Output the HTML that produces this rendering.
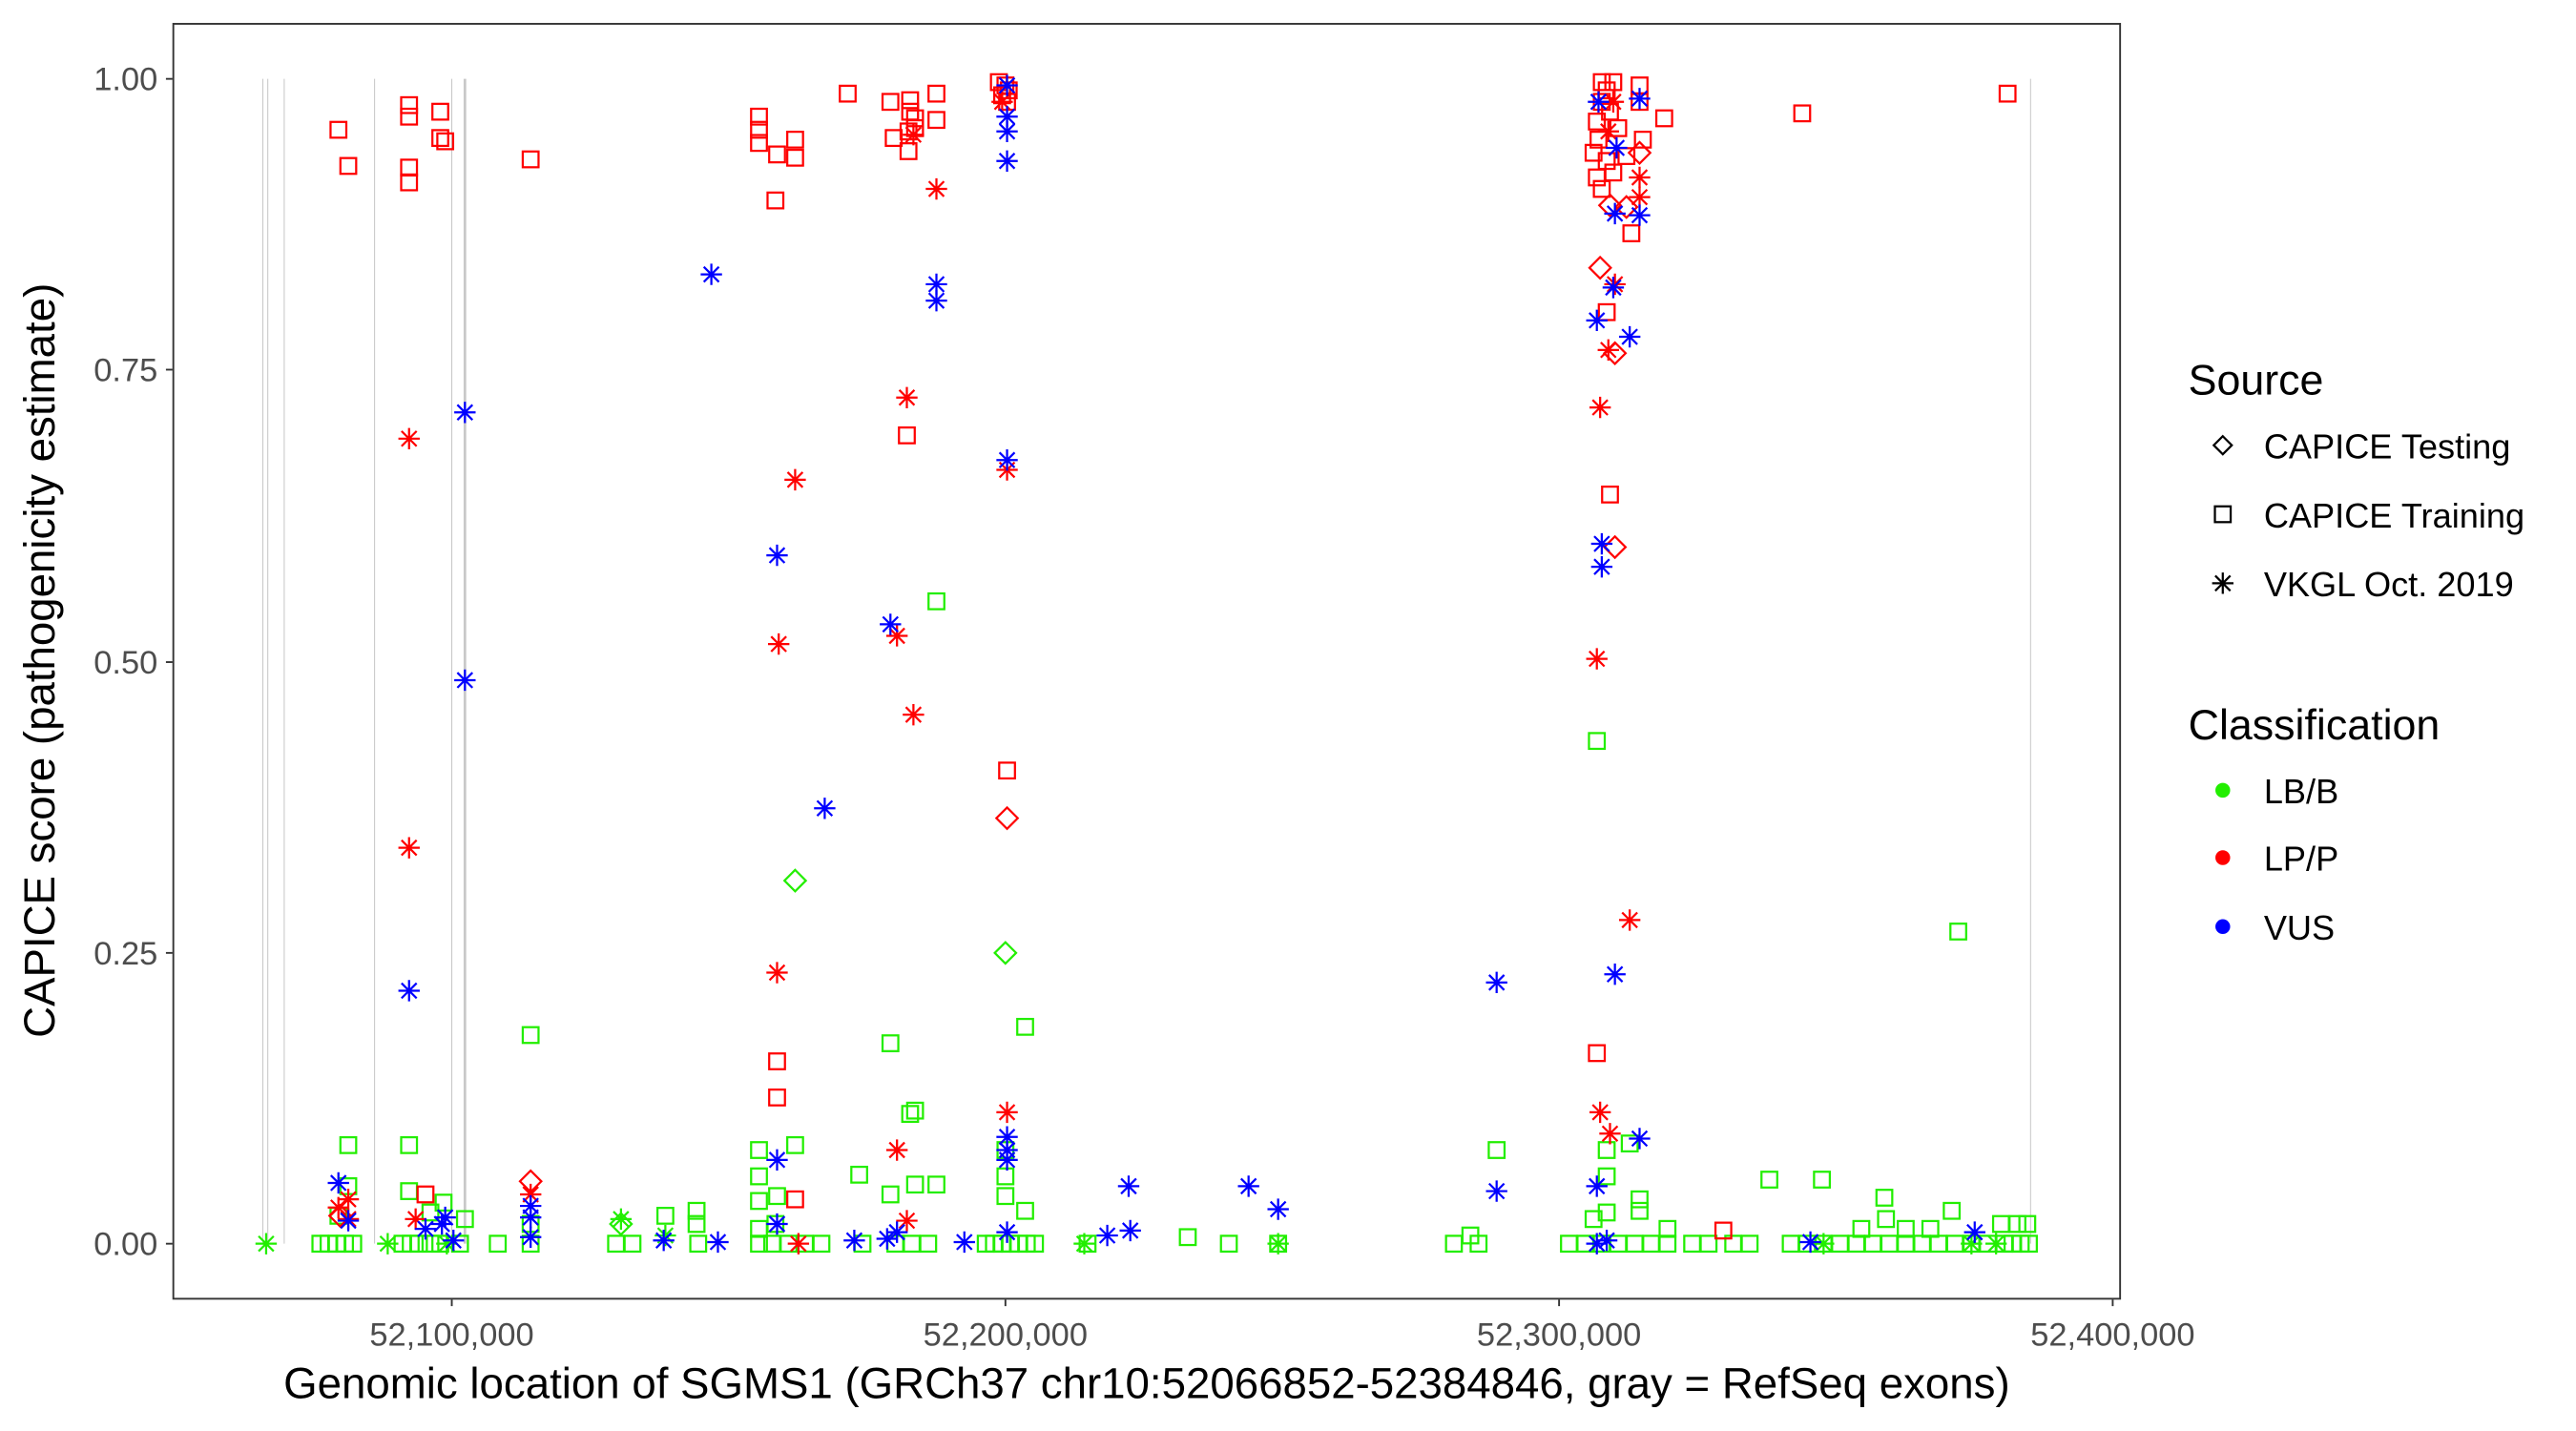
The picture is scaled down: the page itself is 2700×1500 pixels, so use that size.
<!DOCTYPE html>
<html><head><meta charset="utf-8"><style>
html,body{margin:0;padding:0;background:#fff;}
svg{display:block;font-family:"Liberation Sans",Arial,sans-serif;}
</style></head><body>
<svg width="2700" height="1500" viewBox="0 0 1568 871" preserveAspectRatio="none" xmlns="http://www.w3.org/2000/svg">
<defs>
<g id="q"><rect x="-4.8" y="-4.8" width="9.6" height="9.6" fill="none"/></g>
<g id="d"><path d="M0,-6.5 L6.5,0 L0,6.5 L-6.5,0 Z" fill="none"/></g>
<g id="s"><path d="M0,-6.5V6.5M-6.5,0H6.5M-4.6,-4.6L4.6,4.6M-4.6,4.6L4.6,-4.6" fill="none"/></g>
</defs>
<rect width="1568" height="871" fill="#fff"/>
<g stroke="#c8c8c8" stroke-width="0.6">
<line x1="160" y1="48" x2="160" y2="757"/><line x1="163" y1="48" x2="163" y2="757"/><line x1="173" y1="48" x2="173" y2="757"/><line x1="228" y1="48" x2="228" y2="757"/><line x1="275" y1="48" x2="275" y2="757"/><line x1="1236" y1="48" x2="1236" y2="757"/>
<line x1="283" y1="48" x2="283" y2="757" stroke-width="1.6"/>
</g>
<g stroke-width="1.3">
<g stroke="#22ee00">
<use href="#q" x="212" y="697"/><use href="#q" x="249" y="697"/><use href="#q" x="249" y="725"/><use href="#q" x="323" y="630"/><use href="#q" x="570" y="366"/><use href="#q" x="972" y="451"/><use href="#q" x="1192" y="567"/><use href="#q" x="624" y="625"/><use href="#q" x="542" y="635"/><use href="#q" x="484" y="697"/><use href="#q" x="462" y="700"/><use href="#q" x="462" y="716"/><use href="#q" x="462" y="731"/><use href="#q" x="473" y="728"/><use href="#q" x="542" y="727"/><use href="#q" x="557" y="721"/><use href="#q" x="570" y="721"/><use href="#q" x="554" y="678"/><use href="#q" x="557" y="676"/><use href="#q" x="523" y="715"/><use href="#q" x="612" y="700"/><use href="#q" x="612" y="716"/><use href="#q" x="612" y="728"/><use href="#q" x="624" y="737"/><use href="#q" x="1077" y="718"/><use href="#q" x="1109" y="718"/><use href="#q" x="1147" y="729"/><use href="#q" x="1188" y="737"/><use href="#q" x="1148" y="742"/><use href="#q" x="978" y="716"/><use href="#q" x="978" y="738"/><use href="#q" x="998" y="730"/><use href="#q" x="998" y="737"/><use href="#q" x="992" y="696"/><use href="#q" x="978" y="700"/><use href="#q" x="911" y="700"/>
<use href="#q" x="212" y="722"/><use href="#q" x="206" y="740"/><use href="#q" x="270" y="732"/><use href="#q" x="262" y="738"/><use href="#q" x="283" y="742"/><use href="#q" x="424" y="737"/><use href="#q" x="424" y="745"/><use href="#q" x="405" y="740"/><use href="#q" x="472" y="745"/><use href="#q" x="462" y="748"/><use href="#q" x="1133" y="748"/><use href="#q" x="1160" y="748"/><use href="#q" x="1175" y="748"/><use href="#q" x="1218" y="745"/><use href="#q" x="1228" y="745"/><use href="#q" x="1234" y="745"/><use href="#q" x="970" y="742"/><use href="#q" x="1015" y="748"/><use href="#q" x="323" y="745"/>
<use href="#q" x="195" y="757"/><use href="#q" x="200" y="757"/><use href="#q" x="205" y="757"/><use href="#q" x="210" y="757"/><use href="#q" x="215" y="757"/><use href="#q" x="245" y="757"/><use href="#q" x="250" y="757"/><use href="#q" x="255" y="757"/><use href="#q" x="262" y="757"/><use href="#q" x="268" y="757"/><use href="#q" x="280" y="757"/><use href="#q" x="303" y="757"/><use href="#q" x="323" y="757"/><use href="#q" x="375" y="757"/><use href="#q" x="385" y="757"/><use href="#q" x="425" y="757"/><use href="#q" x="462" y="757"/><use href="#q" x="470" y="757"/><use href="#q" x="480" y="757"/><use href="#q" x="490" y="757"/><use href="#q" x="500" y="757"/><use href="#q" x="525" y="757"/><use href="#q" x="545" y="757"/><use href="#q" x="555" y="757"/><use href="#q" x="565" y="757"/><use href="#q" x="600" y="757"/><use href="#q" x="605" y="757"/><use href="#q" x="610" y="757"/><use href="#q" x="615" y="757"/><use href="#q" x="620" y="757"/><use href="#q" x="625" y="757"/><use href="#q" x="630" y="757"/><use href="#q" x="662" y="757"/><use href="#q" x="723" y="753"/><use href="#q" x="748" y="757"/><use href="#q" x="778" y="757"/><use href="#q" x="885" y="757"/><use href="#q" x="895" y="752"/><use href="#q" x="900" y="757"/><use href="#q" x="955" y="757"/><use href="#q" x="965" y="757"/><use href="#q" x="975" y="757"/><use href="#q" x="985" y="757"/><use href="#q" x="995" y="757"/><use href="#q" x="1005" y="757"/><use href="#q" x="1015" y="757"/><use href="#q" x="1030" y="757"/><use href="#q" x="1040" y="757"/><use href="#q" x="1055" y="757"/><use href="#q" x="1065" y="757"/><use href="#q" x="1090" y="757"/><use href="#q" x="1100" y="757"/><use href="#q" x="1110" y="757"/><use href="#q" x="1120" y="757"/><use href="#q" x="1130" y="757"/><use href="#q" x="1140" y="757"/><use href="#q" x="1150" y="757"/><use href="#q" x="1160" y="757"/><use href="#q" x="1170" y="757"/><use href="#q" x="1180" y="757"/><use href="#q" x="1190" y="757"/><use href="#q" x="1200" y="757"/><use href="#q" x="1210" y="757"/><use href="#q" x="1220" y="757"/><use href="#q" x="1225" y="757"/><use href="#q" x="1230" y="757"/><use href="#q" x="1235" y="757"/>
</g>
<g stroke="#22ee00">
<use href="#s" x="162" y="757"/><use href="#s" x="236" y="757"/><use href="#s" x="378" y="742"/><use href="#s" x="405" y="752"/><use href="#s" x="660" y="757"/><use href="#s" x="778" y="757"/><use href="#s" x="1110" y="757"/><use href="#s" x="1200" y="757"/><use href="#s" x="1215" y="757"/><use href="#s" x="272" y="757"/>
<use href="#d" x="484" y="536"/><use href="#d" x="612" y="580"/><use href="#d" x="378" y="745"/>
</g>
<g stroke="#ff0000">
<use href="#q" x="206" y="79"/><use href="#q" x="212" y="101"/><use href="#q" x="249" y="64"/><use href="#q" x="249" y="71"/><use href="#q" x="249" y="102"/><use href="#q" x="249" y="111"/><use href="#q" x="268" y="68"/><use href="#q" x="268" y="84"/><use href="#q" x="271" y="86"/><use href="#q" x="323" y="97"/>
<use href="#q" x="462" y="71"/><use href="#q" x="462" y="79"/><use href="#q" x="462" y="87"/><use href="#q" x="473" y="94"/><use href="#q" x="484" y="85"/><use href="#q" x="484" y="96"/><use href="#q" x="472" y="122"/><use href="#q" x="516" y="57"/><use href="#q" x="542" y="62"/><use href="#q" x="554" y="61"/><use href="#q" x="554" y="68"/><use href="#q" x="557" y="72"/><use href="#q" x="553" y="80"/><use href="#q" x="557" y="78"/><use href="#q" x="544" y="84"/><use href="#q" x="553" y="92"/><use href="#q" x="570" y="57"/><use href="#q" x="570" y="73"/>
<use href="#q" x="608" y="50"/><use href="#q" x="612" y="52"/><use href="#q" x="614" y="55"/><use href="#q" x="610" y="58"/><use href="#q" x="613" y="62"/>
<use href="#q" x="552" y="265"/><use href="#q" x="473" y="646"/><use href="#q" x="473" y="668"/><use href="#q" x="484" y="730"/><use href="#q" x="613" y="469"/><use href="#q" x="259" y="727"/>
<use href="#q" x="975" y="50"/><use href="#q" x="978" y="55"/><use href="#q" x="982" y="50"/><use href="#q" x="975" y="62"/><use href="#q" x="980" y="68"/><use href="#q" x="972" y="74"/><use href="#q" x="985" y="78"/><use href="#q" x="973" y="85"/><use href="#q" x="970" y="93"/><use href="#q" x="978" y="98"/><use href="#q" x="972" y="108"/><use href="#q" x="975" y="115"/><use href="#q" x="982" y="105"/><use href="#q" x="990" y="95"/><use href="#q" x="998" y="52"/><use href="#q" x="998" y="62"/><use href="#q" x="1000" y="85"/><use href="#q" x="993" y="142"/><use href="#q" x="1013" y="72"/><use href="#q" x="978" y="190"/><use href="#q" x="980" y="301"/><use href="#q" x="1097" y="69"/><use href="#q" x="1222" y="57"/><use href="#q" x="972" y="641"/><use href="#q" x="1049" y="749"/>
</g>
<g stroke="#ff0000">
<use href="#s" x="249" y="267"/><use href="#s" x="249" y="516"/><use href="#s" x="253" y="742"/><use href="#s" x="206" y="735"/><use href="#s" x="212" y="742"/><use href="#s" x="212" y="730"/><use href="#s" x="323" y="727"/><use href="#s" x="474" y="392"/><use href="#s" x="473" y="592"/><use href="#s" x="484" y="292"/><use href="#s" x="552" y="242"/><use href="#s" x="546" y="387"/><use href="#s" x="556" y="435"/><use href="#s" x="546" y="700"/><use href="#s" x="552" y="743"/><use href="#s" x="570" y="115"/><use href="#s" x="613" y="286"/><use href="#s" x="613" y="677"/><use href="#s" x="972" y="401"/><use href="#s" x="974" y="248"/><use href="#s" x="974" y="677"/><use href="#s" x="979" y="213"/><use href="#s" x="980" y="690"/><use href="#s" x="983" y="173"/><use href="#s" x="992" y="560"/><use href="#s" x="998" y="108"/><use href="#s" x="998" y="120"/><use href="#s" x="486" y="757"/><use href="#s" x="982" y="62"/><use href="#s" x="979" y="80"/><use href="#s" x="556" y="82"/><use href="#s" x="610" y="62"/>
<use href="#d" x="323" y="719"/><use href="#d" x="613" y="498"/><use href="#d" x="974" y="163"/><use href="#d" x="980" y="125"/><use href="#d" x="983" y="215"/><use href="#d" x="983" y="333"/><use href="#d" x="990" y="126"/><use href="#d" x="998" y="93"/><use href="#d" x="207" y="740"/>
</g>
<g stroke="#0000ff">
<use href="#s" x="206" y="720"/><use href="#s" x="212" y="743"/><use href="#s" x="259" y="748"/><use href="#s" x="269" y="745"/><use href="#s" x="271" y="741"/><use href="#s" x="276" y="755"/><use href="#s" x="283" y="251"/><use href="#s" x="283" y="414"/><use href="#s" x="323" y="734"/><use href="#s" x="323" y="741"/><use href="#s" x="323" y="753"/><use href="#s" x="433" y="167"/><use href="#s" x="473" y="338"/><use href="#s" x="473" y="706"/><use href="#s" x="473" y="745"/><use href="#s" x="502" y="492"/><use href="#s" x="542" y="380"/><use href="#s" x="570" y="173"/><use href="#s" x="570" y="183"/><use href="#s" x="613" y="71"/><use href="#s" x="613" y="80"/><use href="#s" x="613" y="52"/><use href="#s" x="613" y="98"/><use href="#s" x="613" y="280"/><use href="#s" x="613" y="692"/><use href="#s" x="613" y="700"/><use href="#s" x="613" y="706"/><use href="#s" x="613" y="750"/><use href="#s" x="911" y="598"/><use href="#s" x="911" y="725"/><use href="#s" x="975" y="331"/><use href="#s" x="975" y="345"/><use href="#s" x="972" y="195"/><use href="#s" x="973" y="62"/><use href="#s" x="982" y="175"/><use href="#s" x="983" y="130"/><use href="#s" x="992" y="205"/><use href="#s" x="998" y="131"/><use href="#s" x="998" y="693"/><use href="#s" x="983" y="593"/><use href="#s" x="972" y="757"/><use href="#s" x="978" y="755"/><use href="#s" x="972" y="722"/><use href="#s" x="540" y="754"/><use href="#s" x="546" y="750"/><use href="#s" x="520" y="755"/><use href="#s" x="587" y="756"/><use href="#s" x="437" y="756"/><use href="#s" x="404" y="755"/><use href="#s" x="674" y="752"/><use href="#s" x="687" y="722"/><use href="#s" x="688" y="749"/><use href="#s" x="760" y="722"/><use href="#s" x="778" y="736"/><use href="#s" x="1102" y="756"/><use href="#s" x="1202" y="750"/><use href="#s" x="998" y="60"/><use href="#s" x="984" y="90"/><use href="#s" x="249" y="603"/>
</g>
</g>
<rect x="105.5" y="14.5" width="1185" height="776" fill="none" stroke="#333" stroke-width="1.1"/>
<g stroke="#333" stroke-width="1.1">
<line x1="101" y1="48" x2="105" y2="48"/><line x1="101" y1="225" x2="105" y2="225"/><line x1="101" y1="403" x2="105" y2="403"/><line x1="101" y1="580" x2="105" y2="580"/><line x1="101" y1="757" x2="105" y2="757"/>
<line x1="275" y1="791" x2="275" y2="795"/><line x1="612" y1="791" x2="612" y2="795"/><line x1="949" y1="791" x2="949" y2="795"/><line x1="1286" y1="791" x2="1286" y2="795"/>
</g>
<g fill="#4d4d4d" font-size="20" text-anchor="end">
<text x="96" y="55">1.00</text><text x="96" y="232">0.75</text><text x="96" y="410">0.50</text><text x="96" y="587">0.25</text><text x="96" y="764">0.00</text>
</g>
<g fill="#4d4d4d" font-size="20" text-anchor="middle">
<text x="275" y="819">52,100,000</text><text x="612" y="819">52,200,000</text><text x="949" y="819">52,300,000</text><text x="1286" y="819">52,400,000</text>
</g>
<text x="698" y="851" font-size="26.5" text-anchor="middle" fill="#000">Genomic location of SGMS1 (GRCh37 chr10:52066852-52384846, gray = RefSeq exons)</text>
<text transform="translate(33,402) rotate(-90)" font-size="26.5" text-anchor="middle" fill="#000">CAPICE score (pathogenicity estimate)</text>
<text x="1332" y="240" font-size="26" fill="#000">Source</text>
<g stroke="#000" stroke-width="1.3">
<path d="M1353,265.5 L1358.5,271 L1353,276.5 L1347.5,271 Z" fill="none"/>
<use href="#q" x="1353" y="313"/>
<use href="#s" x="1353" y="355"/>
</g>
<g font-size="21" fill="#000">
<text x="1378" y="279">CAPICE Testing</text><text x="1378" y="321">CAPICE Training</text><text x="1378" y="363">VKGL Oct. 2019</text>
</g>
<text x="1332" y="450" font-size="26" fill="#000">Classification</text>
<circle cx="1353" cy="481" r="4.5" fill="#22ee00"/><circle cx="1353" cy="522" r="4.5" fill="#ff0000"/><circle cx="1353" cy="564" r="4.5" fill="#0000ff"/>
<g font-size="21" fill="#000">
<text x="1378" y="489">LB/B</text><text x="1378" y="530">LP/P</text><text x="1378" y="572">VUS</text>
</g>
</svg>
</body></html>
